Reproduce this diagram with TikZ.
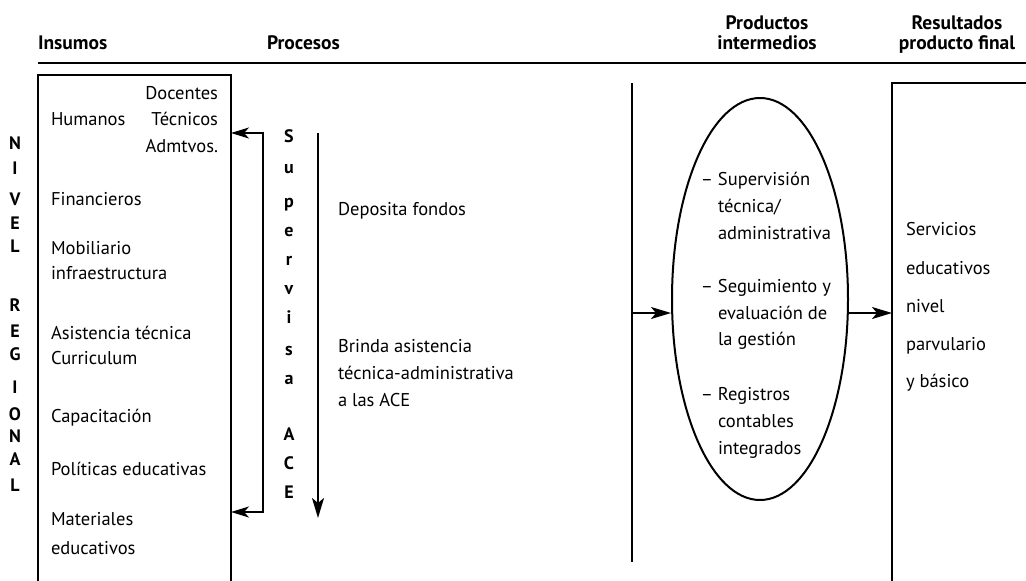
\documentclass[tikz,border=0pt]{standalone}
\usepackage{fontspec}
\setmainfont{PT Sans}
\usetikzlibrary{arrows.meta,shapes.geometric}
\begin{document}
\begin{tikzpicture}[x=1pt,y=-1pt,line width=2pt,
  txt/.style={anchor=mid west,inner sep=0,font=\fontsize{18.5}{22}\selectfont},
  hdr/.style={anchor=mid,inner sep=0,font=\bfseries\fontsize{19.5}{22}\selectfont},
  vlet/.style={anchor=mid,inner sep=0,font=\bfseries\fontsize{18}{20}\selectfont},
  arr/.style={-{Stealth[length=20pt,width=12pt,inset=5pt]},line width=2pt}]
\useasboundingbox (0,0) rectangle (1026,581);
% headers
\node[hdr,anchor=mid west] (hIns) at (37,47) {Insumos};
\node[hdr,anchor=mid west] (hPro) at (266,47) {Procesos};
\node[hdr] (hPI1) at (767,27) {Productos};
\node[hdr] (hPI2) at (767,47) {intermedios};
\node[hdr] (hRP1) at (957,27) {Resultados};
\node[hdr] (hRP2) at (957,47) {producto final};
\coordinate (rl1) at (38,63);
\coordinate (rl2) at (1026,63);
\draw[line width=2.4pt] (rl1) -- (rl2);
% vertical label NIVEL REGIONAL
\foreach \l/\y [count=\i] in {N/147,I/172,V/203,E/227,L/250,R/309,E/335,G/358,I/391,O/418,N/440,A/463,L/489}
  \node[vlet] (nr\i) at (15,\y) {\l};
% inputs box
\coordinate (ib1) at (38,581);
\coordinate (ib2) at (38,75);
\coordinate (ib3) at (231,75);
\coordinate (ib4) at (231,581);
\draw (ib1) -- (ib2) -- (ib3) -- (ib4);
\node[txt] (t1) at (50,123) {Humanos};
\node[txt,anchor=mid east] (t2) at (219,97) {Docentes};
\node[txt,anchor=mid east] (t3) at (219,123) {Técnicos};
\node[txt,anchor=mid east] (t4) at (219,150) {Admtvos.};
\node[txt] (t5) at (50,203) {Financieros};
\node[txt] (t6) at (50,252) {Mobiliario};
\node[txt] (t7) at (50,277) {infraestructura};
\node[txt] (t8) at (50,337) {Asistencia técnica};
\node[txt] (t9) at (50,362) {Curriculum};
\node[txt] (t10) at (50,420) {Capacitación};
\node[txt] (t11) at (50,473) {Políticas educativas};
\node[txt] (t12) at (50,523) {Materiales};
\node[txt] (t13) at (50,552) {educativos};
% supervisa bracket
\coordinate (inA) at (231,133);
\coordinate (inB) at (231,512);
\coordinate (brA) at (263,133);
\coordinate (brB) at (263,512);
\draw[{Stealth[length=18pt,width=11pt,inset=5pt]}-{Stealth[length=18pt,width=11pt,inset=5pt]}] (inB) -- (brB) -- (brA) -- (inA);
\foreach \l/\y [count=\i] in {S/140,u/171,p/205,e/234,r/263,v/292,i/321,s/353,a/382,A/438,C/467,E/496}
  \node[vlet] (sv\i) at (289,\y) {\l};
% process arrow
\coordinate (pA) at (318,133);
\coordinate (pB) at (318,518);
\draw[arr] (pA) -- (pB);
\node[txt] (m1) at (337,213) {Deposita fondos};
\node[txt] (m2) at (337,350) {Brinda asistencia};
\node[txt] (m3) at (337,377) {técnica-administrativa};
\node[txt] (m4) at (337,404) {a las ACE};
% vertical line and ellipse
\coordinate (vA) at (632,83);
\coordinate (vB) at (632,562);
\draw (vA) -- (vB);
\node[draw,ellipse,minimum width=176pt,minimum height=402pt,inner sep=0] (ell) at (760,299) {};
\coordinate (a1) at (632,313);
\coordinate (rbA) at (892,581);
\coordinate (rbB) at (892,83);
\coordinate (rbC) at (1026,83);
\coordinate (rbM) at (892,313);
\draw (rbA) -- (rbB) -- (rbC);
\draw[arr] (a1) -- (a1 -| ell.west);
\draw[arr] (a1 -| ell.east) -- (rbM);
% ellipse texts
\node[txt] (e1) at (717,183) {\llap{– }Supervisión};
\node[txt] (e2) at (717,210) {técnica/};
\node[txt] (e3) at (717,237) {administrativa};
\node[txt] (e4) at (717,290) {\llap{– }Seguimiento y};
\node[txt] (e5) at (717,317) {evaluación de};
\node[txt] (e6) at (717,343) {la gestión};
\node[txt] (e7) at (717,398) {\llap{– }Registros};
\node[txt] (e8) at (717,425) {contables};
\node[txt] (e9) at (717,452) {integrados};
% results
\node[txt] (r1) at (905,233) {Servicios};
\node[txt] (r2) at (905,272) {educativos};
\node[txt] (r3) at (905,310) {nivel};
\node[txt] (r4) at (905,348) {parvulario};
\node[txt] (r5) at (905,385) {y básico};
\end{tikzpicture}
\end{document}
